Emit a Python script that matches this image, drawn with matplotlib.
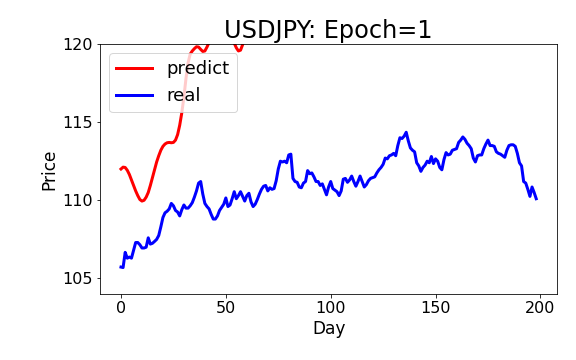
import numpy as np
import matplotlib
matplotlib.use("Agg")
import matplotlib.pyplot as plt

# Реальные цены USDJPY (по дням)
real = [
    105.73, 105.70, 106.67, 106.30, 106.37, 106.30, 106.80, 107.30, 107.30, 107.16,
    106.95, 106.95, 107.00, 107.60, 107.20, 107.25, 107.37, 107.50, 107.75, 108.30,
    108.90, 109.20, 109.30, 109.45, 109.80, 109.65, 109.35, 109.25, 109.00, 109.40,
    109.70, 109.50, 109.50, 109.65, 109.85, 110.20, 110.60, 111.10, 111.20, 110.40,
    109.80, 109.60, 109.45, 109.10, 108.80, 108.80, 109.00, 109.35, 109.55, 109.75,
    110.15, 109.60, 109.70, 110.10, 110.55, 110.10, 110.30, 110.55, 110.25, 109.95,
    110.30, 110.45, 109.90, 109.60, 109.75, 110.05, 110.40, 110.70, 110.90, 110.95,
    110.60, 110.80, 110.70, 110.75, 111.25, 112.00, 112.50, 112.45, 112.50, 112.40,
    112.90, 112.95, 111.40, 111.20, 111.15, 110.85, 110.80, 111.10, 111.20, 111.90,
    111.70, 111.75, 111.50, 111.20, 111.20, 110.95, 111.05, 110.70, 110.35, 110.85,
    111.20, 110.75, 110.65, 110.55, 110.30, 110.60, 111.35, 111.40, 111.15, 111.30,
    111.55, 111.20, 110.90, 111.20, 111.55, 111.20, 110.85, 111.00, 111.25, 111.40,
    111.45, 111.50, 111.75, 111.95, 112.10, 112.30, 112.70, 112.65, 112.85, 112.90,
    113.00, 112.85, 113.50, 114.00, 113.95, 114.10, 114.35, 113.80, 113.35, 113.20,
    113.10, 112.40, 112.20, 111.85, 112.10, 112.25, 112.50, 112.40, 112.80, 112.35,
    112.65, 112.50, 112.10, 111.95, 112.60, 113.05, 112.90, 112.95, 113.20, 113.25,
    113.30, 113.70, 113.85, 114.05, 113.90, 113.65, 113.50, 113.30, 112.70, 112.45,
    112.85, 112.90, 112.90, 113.30, 113.60, 113.85, 113.50, 113.50, 113.45, 113.10,
    113.00, 112.95, 112.85, 112.75, 113.20, 113.50, 113.55, 113.55, 113.45, 113.00,
    112.40, 112.20, 111.20, 111.10, 110.70, 110.25, 110.85, 110.50, 110.10,
]

# Прогноз модели (дальше уходит выше 120 и обрезается)
predict = [
    112.00, 112.12, 112.10, 111.92, 111.65, 111.30, 110.95, 110.60, 110.30, 110.05,
    109.95, 110.00, 110.20, 110.50, 110.95, 111.45, 111.95, 112.45, 112.85, 113.20,
    113.45, 113.60, 113.68, 113.70, 113.68, 113.70, 113.85, 114.20, 114.80, 115.60,
    116.60, 117.80, 118.80, 119.35, 119.55, 119.70, 119.82, 119.80, 119.65, 119.52,
    119.55, 119.80, 120.10, 120.50, 120.90, 121.10, 121.25, 121.30, 121.25, 121.10,
    120.95, 120.75, 120.55, 120.30, 120.05, 119.75, 119.55, 119.60, 119.95, 120.40,
    121.00, 121.60, 122.20,
]

days_real = np.arange(len(real))
days_pred = np.arange(len(predict))

plt.rcParams['font.size'] = 16

fig, ax = plt.subplots(figsize=(8, 5), dpi=72)
fig.subplots_adjust(left=0.174, right=0.967, bottom=0.183, top=0.878)

ax.plot(days_pred, predict, color='red', linewidth=3, label='predict')
ax.plot(days_real, real, color='blue', linewidth=3, label='real')

ax.set_xlim(-9.9, 207.9)
ax.set_ylim(104.0, 120.0)
ax.set_yticks([105, 110, 115, 120])
ax.set_xticks([0, 50, 100, 150, 200])

ax.set_title('USDJPY: Epoch=1', fontsize=24)
ax.set_xlabel('Day', fontsize=17)
ax.set_ylabel('Price', fontsize=17)
ax.legend(loc='upper left', fontsize=18)

fig.savefig('out.png', dpi=72)
